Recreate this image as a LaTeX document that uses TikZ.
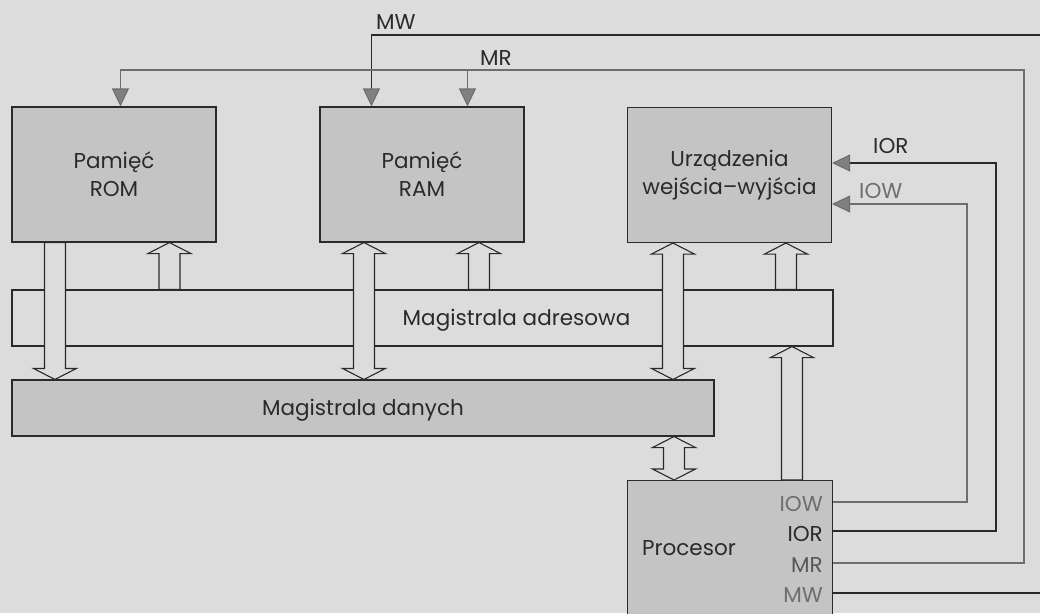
\documentclass[tikz,border=0pt]{standalone}
\usepackage{fontspec}
\setmainfont{Poppins}
\usetikzlibrary{calc,arrows.meta}
\definecolor{bg}{HTML}{DCDCDC}
\definecolor{boxfill}{HTML}{C4C4C4}
\definecolor{ink}{HTML}{2A2A2A}
\definecolor{sig}{HTML}{6E6E6E}
\definecolor{tipfill}{HTML}{808080}
\tikzset{
  unit/.style={draw=ink, line width=1.1pt, fill=boxfill, minimum width=204pt, minimum height=135pt, align=center, inner sep=0pt, font=\fontsize{21.5}{28}\selectfont, text=ink},
  busbox/.style={draw=ink, line width=1.1pt, minimum height=56pt, inner sep=0pt},
  lbl/.style={inner sep=0pt, font=\fontsize{21.5}{24}\selectfont, text=ink},
  glbl/.style={lbl, text=sig},
  blockar/.style={draw=ink, line width=1.1pt, fill=bg, line join=miter},
  ctl/.style={draw=ink, line width=1.1pt},
  gctl/.style={draw=sig, line width=1.1pt},
  tip/.style={-{Triangle[length=18pt,width=17pt,fill=tipfill,color=sig]}},
}
% single hollow block arrow, vertical, from #1 (tail) to #2 (head)
\newcommand\sblock[2]{%
  \path[blockar] let \p1=(#1), \p2=(#2), \n1={ifthenelse(\y2>\y1,1,-1)} in
    (\x1-10.5pt,\y1) -- (\x1-10.5pt,{\y2-\n1*11pt}) -- (\x1-21.5pt,{\y2-\n1*11pt})
    -- (\x1,\y2) -- (\x1+21.5pt,{\y2-\n1*11pt}) -- (\x1+10.5pt,{\y2-\n1*11pt})
    -- (\x1+10.5pt,\y1) -- cycle;}
% double hollow block arrow, vertical, between #1 and #2
\newcommand\dblock[2]{%
  \path[blockar] let \p1=(#1), \p2=(#2), \n1={ifthenelse(\y2>\y1,1,-1)} in
    (\x1,\y1) -- (\x1+21.5pt,{\y1+\n1*11pt}) -- (\x1+10.5pt,{\y1+\n1*11pt})
    -- (\x1+10.5pt,{\y2-\n1*11pt}) -- (\x1+21.5pt,{\y2-\n1*11pt}) -- (\x1,\y2)
    -- (\x1-21.5pt,{\y2-\n1*11pt}) -- (\x1-10.5pt,{\y2-\n1*11pt})
    -- (\x1-10.5pt,{\y1+\n1*11pt}) -- (\x1-21.5pt,{\y1+\n1*11pt}) -- cycle;}
\begin{document}
\begin{tikzpicture}[x=1pt,y=-1pt]
\useasboundingbox (0,0) rectangle (1040,613);
\clip (0,0) rectangle (1040,613);
\fill[bg] (0,0) rectangle (1040,613);

% units
\node[unit] (rom) at (114,174.5) {Pamięć\\ROM};
\node[unit] (ram) at (422,174.5) {Pamięć\\RAM};
\node[unit] (io)  at (729.5,175) {Urządzenia\\wejścia–wyjścia};

% buses
\node[busbox, minimum width=821pt] (abus) at (422.5,318) {};
\node[busbox, fill=boxfill, minimum width=702pt] (dbus) at (363,408) {};
\node[lbl, anchor=base] (abusl) at (516.5,325) {Magistrala adresowa};
\node[lbl, anchor=base] (dbusl) at (dbus.center |- 0,415) {Magistrala danych};

% processor
\node[draw=ink, line width=1.1pt, fill=boxfill, minimum width=205pt, minimum height=150pt, inner sep=0pt, anchor=north west] (proc) at (627,480) {};
\node[lbl, anchor=base west] (procl) at (642,555) {Procesor};
\node[glbl, anchor=base east] (pIOW) at (823,511) {IOW};
\node[lbl,  anchor=base east] (pIOR) at (823,541) {IOR};
\node[glbl, anchor=base east, text=sig!80!black] (pMR) at (823,572) {MR};
\node[glbl, anchor=base east] (pMW) at (823,602) {MW};

% block arrows
\sblock{[xshift=43.5pt]rom.south west}{[xshift=43.5pt]rom.south west |- dbus.north}
\sblock{[xshift=158pt]rom.south west |- abus.north}{[xshift=158pt]rom.south west}
\dblock{[xshift=44.5pt]ram.south west}{[xshift=44.5pt]ram.south west |- dbus.north}
\sblock{[xshift=159.5pt]ram.south west |- abus.north}{[xshift=159.5pt]ram.south west}
\dblock{[xshift=46pt]io.south west}{[xshift=46pt]io.south west |- dbus.north}
\sblock{[xshift=159pt]io.south west |- abus.north}{[xshift=159pt]io.south west}
\dblock{[xshift=47pt]proc.north west |- dbus.south}{[xshift=47pt]proc.north west}
\sblock{[xshift=165pt]proc.north west}{[xshift=165pt]proc.north west |- abus.south}

% control lines
\coordinate (mwc)  at (1046,35);
\coordinate (mrc)  at (1024,70);
\coordinate (iorc) at (996,163);
\coordinate (iowc) at (967,204);

\draw[ctl, tip] (proc.east |- 0,593) -| (mwc) -| ([xshift=52pt]ram.north west);
\draw[gctl, tip] (proc.east |- 0,563) -| (mrc) -| ([xshift=109pt]rom.north west);
\draw[gctl, tip] ([xshift=148pt]ram.north west |- mrc) -- ([xshift=148pt]ram.north west);
\draw[ctl, tip] (proc.east |- 0,531) -| (iorc) -- (io.east |- iorc);
\draw[gctl, tip] (proc.east |- 0,502) -| (iowc) -- (io.east |- iowc);

% signal labels
\node[lbl, anchor=base west] (lMW) at (376,29) {MW};
\node[lbl, anchor=base west] (lMR) at (480,65) {MR};
\node[lbl, anchor=base west] (lIOR) at (873,153) {IOR};
\node[glbl, anchor=base west] (lIOW) at (859,198) {IOW};
\end{tikzpicture}
\end{document}
